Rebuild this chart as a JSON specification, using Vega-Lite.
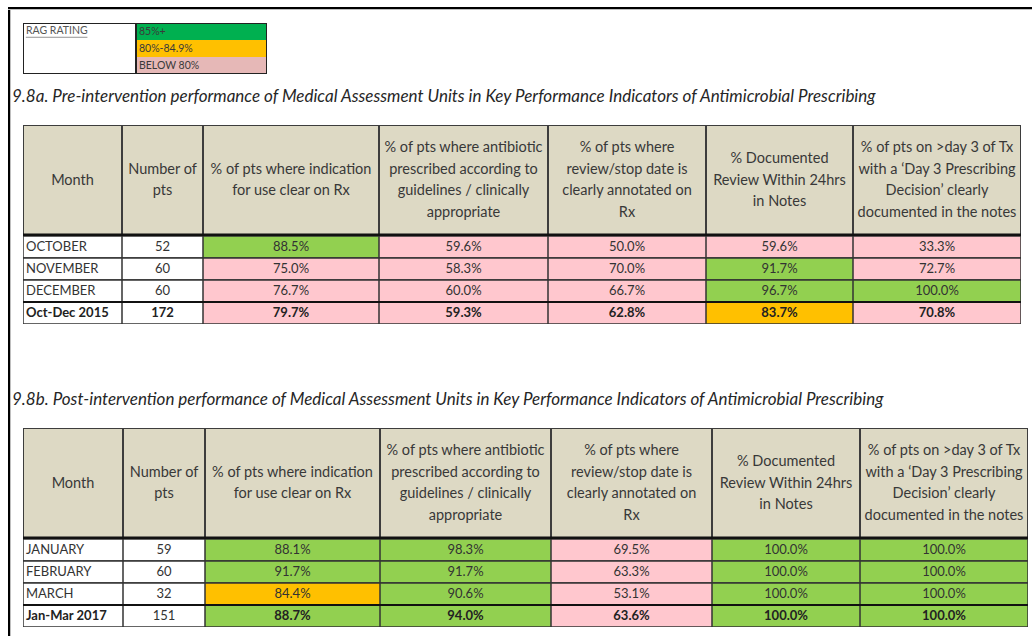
{
"$schema": "https://vega.github.io/schema/vega-lite/v6.json",
"background": "white",
"padding": {"left": 8, "top": 7, "right": 0, "bottom": 0},
"config": {"view": {"stroke": null}},
"datasets": {
"hdr": [
 {"col":"month","label":"Month"},
 {"col":"n","label":"Number of\npts"},
 {"col":"ind","label":"% of pts where indication\nfor use clear on Rx"},
 {"col":"anti","label":"% of pts where antibiotic\nprescribed according to\nguidelines / clinically\nappropriate"},
 {"col":"rev","label":"% of pts where\nreview/stop date is\nclearly annotated on\nRx"},
 {"col":"doc","label":"% Documented\nReview Within 24hrs\nin Notes"},
 {"col":"d3","label":"% of pts on >day 3 of Tx\nwith a ‘Day 3 Prescribing\nDecision’ clearly\ndocumented in the notes"}
],
"a": [
 {"month":"OCTOBER","n":52,"ind":0.885,"anti":0.596,"rev":0.500,"doc":0.596,"d3":0.333,"total":false},
 {"month":"NOVEMBER","n":60,"ind":0.750,"anti":0.583,"rev":0.700,"doc":0.917,"d3":0.727,"total":false},
 {"month":"DECEMBER","n":60,"ind":0.767,"anti":0.600,"rev":0.667,"doc":0.967,"d3":1.000,"total":false},
 {"month":"Oct-Dec 2015","n":172,"ind":0.797,"anti":0.593,"rev":0.628,"doc":0.837,"d3":0.708,"total":true}
],
"b": [
 {"month":"JANUARY","n":59,"ind":0.881,"anti":0.983,"rev":0.695,"doc":1.000,"d3":1.000,"total":false},
 {"month":"FEBRUARY","n":60,"ind":0.917,"anti":0.917,"rev":0.633,"doc":1.000,"d3":1.000,"total":false},
 {"month":"MARCH","n":32,"ind":0.844,"anti":0.906,"rev":0.531,"doc":1.000,"d3":1.000,"total":false},
 {"month":"Jan-Mar 2017","n":151,"ind":0.887,"anti":0.940,"rev":0.636,"doc":1.000,"d3":1.000,"total":true}
],
"rag": [{"rating":"85%+"},{"rating":"80%-84.9%"},{"rating":"BELOW 80%"}],
"tag": [{"t":"RAG RATING"}]
},
"spacing": 0,
"vconcat": [
 {"width": 1024, "height": 2.5, "data": {"values": [{"k": 1}]}, "mark": {"type": "rect", "color": "#000000", "clip": true},
  "encoding": {"x": {"datum": 0, "type": "quantitative", "scale": {"domain": [0, 1]}, "axis": null}, "x2": {"datum": 1}, "y": {"datum": 0, "type": "quantitative", "scale": {"domain": [0, 1]}, "axis": null}, "y2": {"datum": 1}}},
 {"spacing": 1, "hconcat": [
  {"width": 2.5, "height": 627, "data": {"values": [{"k": 1}]}, "mark": {"type": "rect", "color": "#000000", "clip": true},
   "encoding": {"x": {"datum": 0, "type": "quantitative", "scale": {"domain": [0, 1]}, "axis": null}, "x2": {"datum": 1}, "y": {"datum": 0, "type": "quantitative", "scale": {"domain": [0, 1]}, "axis": null}, "y2": {"datum": 1}}},
  {"spacing": 0, "vconcat": [
   {"width": 1, "height": 13, "data": {"values": []}, "mark": "point"},
   {"spacing": 0, "bounds": "flush", "hconcat": [
    {"width": 113, "height": 51, "data": {"name": "tag"}, "layer": [
     {"mark": {"type": "rect", "fill": "#ffffff", "stroke": "#222222", "strokeWidth": 2, "clip": true}, "encoding": {"x": {"datum": 0, "type": "quantitative", "scale": {"domain": [0, 1]}, "axis": null}, "x2": {"datum": 1}, "y": {"datum": 0, "type": "quantitative", "scale": {"domain": [0, 1]}, "axis": null}, "y2": {"datum": 1}}},
     {"mark": {"type": "text", "font": "Lato", "fontSize": 10.5, "color": "#555555", "align": "left", "baseline": "top", "dx": 3, "dy": 3}, "encoding": {"x": {"datum": 0, "type": "quantitative"}, "y": {"datum": 1, "type": "quantitative"}, "text": {"field": "t"}}},
     {"mark": {"type": "rule", "strokeWidth": 0.8, "color": "#777777", "clip": true}, "encoding": {"x": {"datum": 0.025, "type": "quantitative"}, "x2": {"datum": 0.57}, "y": {"datum": 0.72, "type": "quantitative"}}}
    ]},
    {"width": 131, "height": 51, "data": {"name": "rag"}, "resolve": {"scale": {"y": "independent"}}, "layer": [
     {"mark": {"type": "rect", "clip": true}, "encoding": {"y": {"field": "rating", "type": "nominal", "sort": null, "axis": null, "scale": {"paddingInner": 0, "paddingOuter": 0}}, "x": {"datum": 0, "type": "quantitative", "scale": {"domain": [0, 1]}, "axis": null}, "x2": {"datum": 1}, "color": {"field": "rating", "type": "nominal", "sort": null, "scale": {"range": ["#00b050", "#ffc000", "#e6b8b7"]}, "legend": null}}},
     {"mark": {"type": "text", "font": "Lato", "fontSize": 10.5, "color": "#3a3a3a", "align": "left", "dx": 3}, "encoding": {"y": {"field": "rating", "type": "nominal", "sort": null, "axis": null, "scale": {"paddingInner": 0, "paddingOuter": 0}}, "x": {"datum": 0, "type": "quantitative"}, "text": {"field": "rating"}}},
     {"mark": {"type": "rect", "fill": null, "stroke": "#222222", "strokeWidth": 2, "clip": true}, "encoding": {"x": {"datum": 0, "type": "quantitative"}, "x2": {"datum": 1}, "y": {"datum": 0, "type": "quantitative", "scale": {"domain": [0, 1]}, "axis": null}, "y2": {"datum": 1}}}
    ]}
   ]},
   {"width": 1, "height": 14, "data": {"values": []}, "mark": "point"},
   {"spacing": 0,
    "title": {"text": "9.8a. Pre-intervention performance of Medical Assessment Units in Key Performance Indicators of Antimicrobial Prescribing", "anchor": "start", "dx": -11, "offset": 19, "font": "Lato", "fontStyle": "italic", "fontWeight": "normal", "fontSize": 17, "color": "#262626"},
    "vconcat": [
    {"spacing": 0, "bounds": "flush", "hconcat": [
     {"width":99,"height":111,"data":{"name":"hdr"},"transform":[{"filter":{"field":"col","equal":"month"}}],"layer":[
      {"mark":{"type":"rect","fill":"#ddd9c4","stroke":"#3d3d3d","strokeWidth":2,"clip":true},"encoding":{"x":{"datum":0,"type":"quantitative","scale":{"domain":[0,1]},"axis":null},"x2":{"datum":1},"y":{"datum":0,"type":"quantitative","scale":{"domain":[0,1]},"axis":null},"y2":{"datum":1}}},
      {"mark":{"type":"text","font":"Lato","fontSize":14.5,"lineHeight":21.5,"lineBreak":"\n","color":"#383838","baseline":"middle","dy":0},"encoding":{"x":{"datum":0.5,"type":"quantitative"},"y":{"datum":0.5,"type":"quantitative"},"text":{"field":"label"}}},
      {"mark":{"type":"rule","strokeWidth":5,"color":"#111111","clip":true},"encoding":{"x":{"datum":0,"type":"quantitative"},"x2":{"datum":1},"y":{"datum":0,"type":"quantitative"}}}
     ]},
     {"width":81,"height":111,"data":{"name":"hdr"},"transform":[{"filter":{"field":"col","equal":"n"}}],"layer":[
      {"mark":{"type":"rect","fill":"#ddd9c4","stroke":"#3d3d3d","strokeWidth":2,"clip":true},"encoding":{"x":{"datum":0,"type":"quantitative","scale":{"domain":[0,1]},"axis":null},"x2":{"datum":1},"y":{"datum":0,"type":"quantitative","scale":{"domain":[0,1]},"axis":null},"y2":{"datum":1}}},
      {"mark":{"type":"text","font":"Lato","fontSize":14.5,"lineHeight":21.5,"lineBreak":"\n","color":"#383838","baseline":"middle","dy":-10.75},"encoding":{"x":{"datum":0.5,"type":"quantitative"},"y":{"datum":0.5,"type":"quantitative"},"text":{"field":"label"}}},
      {"mark":{"type":"rule","strokeWidth":5,"color":"#111111","clip":true},"encoding":{"x":{"datum":0,"type":"quantitative"},"x2":{"datum":1},"y":{"datum":0,"type":"quantitative"}}}
     ]},
     {"width":176,"height":111,"data":{"name":"hdr"},"transform":[{"filter":{"field":"col","equal":"ind"}}],"layer":[
      {"mark":{"type":"rect","fill":"#ddd9c4","stroke":"#3d3d3d","strokeWidth":2,"clip":true},"encoding":{"x":{"datum":0,"type":"quantitative","scale":{"domain":[0,1]},"axis":null},"x2":{"datum":1},"y":{"datum":0,"type":"quantitative","scale":{"domain":[0,1]},"axis":null},"y2":{"datum":1}}},
      {"mark":{"type":"text","font":"Lato","fontSize":14.5,"lineHeight":21.5,"lineBreak":"\n","color":"#383838","baseline":"middle","dy":-10.75},"encoding":{"x":{"datum":0.5,"type":"quantitative"},"y":{"datum":0.5,"type":"quantitative"},"text":{"field":"label"}}},
      {"mark":{"type":"rule","strokeWidth":5,"color":"#111111","clip":true},"encoding":{"x":{"datum":0,"type":"quantitative"},"x2":{"datum":1},"y":{"datum":0,"type":"quantitative"}}}
     ]},
     {"width":169,"height":111,"data":{"name":"hdr"},"transform":[{"filter":{"field":"col","equal":"anti"}}],"layer":[
      {"mark":{"type":"rect","fill":"#ddd9c4","stroke":"#3d3d3d","strokeWidth":2,"clip":true},"encoding":{"x":{"datum":0,"type":"quantitative","scale":{"domain":[0,1]},"axis":null},"x2":{"datum":1},"y":{"datum":0,"type":"quantitative","scale":{"domain":[0,1]},"axis":null},"y2":{"datum":1}}},
      {"mark":{"type":"text","font":"Lato","fontSize":14.5,"lineHeight":21.5,"lineBreak":"\n","color":"#383838","baseline":"middle","dy":-32.25},"encoding":{"x":{"datum":0.5,"type":"quantitative"},"y":{"datum":0.5,"type":"quantitative"},"text":{"field":"label"}}},
      {"mark":{"type":"rule","strokeWidth":5,"color":"#111111","clip":true},"encoding":{"x":{"datum":0,"type":"quantitative"},"x2":{"datum":1},"y":{"datum":0,"type":"quantitative"}}}
     ]},
     {"width":158,"height":111,"data":{"name":"hdr"},"transform":[{"filter":{"field":"col","equal":"rev"}}],"layer":[
      {"mark":{"type":"rect","fill":"#ddd9c4","stroke":"#3d3d3d","strokeWidth":2,"clip":true},"encoding":{"x":{"datum":0,"type":"quantitative","scale":{"domain":[0,1]},"axis":null},"x2":{"datum":1},"y":{"datum":0,"type":"quantitative","scale":{"domain":[0,1]},"axis":null},"y2":{"datum":1}}},
      {"mark":{"type":"text","font":"Lato","fontSize":14.5,"lineHeight":21.5,"lineBreak":"\n","color":"#383838","baseline":"middle","dy":-32.25},"encoding":{"x":{"datum":0.5,"type":"quantitative"},"y":{"datum":0.5,"type":"quantitative"},"text":{"field":"label"}}},
      {"mark":{"type":"rule","strokeWidth":5,"color":"#111111","clip":true},"encoding":{"x":{"datum":0,"type":"quantitative"},"x2":{"datum":1},"y":{"datum":0,"type":"quantitative"}}}
     ]},
     {"width":147,"height":111,"data":{"name":"hdr"},"transform":[{"filter":{"field":"col","equal":"doc"}}],"layer":[
      {"mark":{"type":"rect","fill":"#ddd9c4","stroke":"#3d3d3d","strokeWidth":2,"clip":true},"encoding":{"x":{"datum":0,"type":"quantitative","scale":{"domain":[0,1]},"axis":null},"x2":{"datum":1},"y":{"datum":0,"type":"quantitative","scale":{"domain":[0,1]},"axis":null},"y2":{"datum":1}}},
      {"mark":{"type":"text","font":"Lato","fontSize":14.5,"lineHeight":21.5,"lineBreak":"\n","color":"#383838","baseline":"middle","dy":-21.5},"encoding":{"x":{"datum":0.5,"type":"quantitative"},"y":{"datum":0.5,"type":"quantitative"},"text":{"field":"label"}}},
      {"mark":{"type":"rule","strokeWidth":5,"color":"#111111","clip":true},"encoding":{"x":{"datum":0,"type":"quantitative"},"x2":{"datum":1},"y":{"datum":0,"type":"quantitative"}}}
     ]},
     {"width":168,"height":111,"data":{"name":"hdr"},"transform":[{"filter":{"field":"col","equal":"d3"}}],"layer":[
      {"mark":{"type":"rect","fill":"#ddd9c4","stroke":"#3d3d3d","strokeWidth":2,"clip":true},"encoding":{"x":{"datum":0,"type":"quantitative","scale":{"domain":[0,1]},"axis":null},"x2":{"datum":1},"y":{"datum":0,"type":"quantitative","scale":{"domain":[0,1]},"axis":null},"y2":{"datum":1}}},
      {"mark":{"type":"text","font":"Lato","fontSize":14.5,"lineHeight":21.5,"lineBreak":"\n","color":"#383838","baseline":"middle","dy":-32.25},"encoding":{"x":{"datum":0.5,"type":"quantitative"},"y":{"datum":0.5,"type":"quantitative"},"text":{"field":"label"}}},
      {"mark":{"type":"rule","strokeWidth":5,"color":"#111111","clip":true},"encoding":{"x":{"datum":0,"type":"quantitative"},"x2":{"datum":1},"y":{"datum":0,"type":"quantitative"}}}
     ]}
    ]},
    {"spacing": 0, "bounds": "flush", "hconcat": [
     {"width":99,"height":88,"data":{"name":"a"},"encoding":{"y":{"field":"month","type":"nominal","sort":null,"axis":null,"scale":{"paddingInner":0,"paddingOuter":0}}},"layer":[
      {"mark":{"type":"rect","fill":"#ffffff","stroke":"#333333","strokeWidth":1.5,"clip":true},"encoding":{"x":{"datum":0,"type":"quantitative","scale":{"domain":[0,1]},"axis":null},"x2":{"datum":1}}},
      {"transform":[{"filter":{"field":"total","equal":false}}],"mark":{"type":"text","font":"Lato","fontSize":13,"color":"#333333","align":"left","dx":3},"encoding":{"x":{"datum":0,"type":"quantitative"},"text":{"field":"month"}}},
      {"transform":[{"filter":{"field":"total","equal":true}}],"mark":{"type":"text","font":"Lato","fontSize":13,"fontWeight":"bold","color":"#222222","align":"left","dx":3},"encoding":{"x":{"datum":0,"type":"quantitative"},"text":{"field":"month"}}},
      {"transform":[{"filter":{"field":"total","equal":true}}],"mark":{"type":"rule","strokeWidth":2,"color":"#111111","clip":true},"encoding":{"x":{"datum":0,"type":"quantitative"},"x2":{"datum":1},"y":{"field":"month","type":"nominal","sort":null,"bandPosition":0}}}
     ]},
     {"width":81,"height":88,"data":{"name":"a"},"encoding":{"y":{"field":"month","type":"nominal","sort":null,"axis":null,"scale":{"paddingInner":0,"paddingOuter":0}}},"layer":[
      {"mark":{"type":"rect","fill":"#ffffff","stroke":"#333333","strokeWidth":1.5,"clip":true},"encoding":{"x":{"datum":0,"type":"quantitative","scale":{"domain":[0,1]},"axis":null},"x2":{"datum":1}}},
      {"transform":[{"filter":{"field":"total","equal":false}}],"mark":{"type":"text","font":"Lato","fontSize":13,"color":"#333333"},"encoding":{"x":{"datum":0.5,"type":"quantitative"},"text":{"field":"n"}}},
      {"transform":[{"filter":{"field":"total","equal":true}}],"mark":{"type":"text","font":"Lato","fontSize":13,"fontWeight":"bold","color":"#222222"},"encoding":{"x":{"datum":0.5,"type":"quantitative"},"text":{"field":"n"}}},
      {"transform":[{"filter":{"field":"total","equal":true}}],"mark":{"type":"rule","strokeWidth":2,"color":"#111111","clip":true},"encoding":{"x":{"datum":0,"type":"quantitative"},"x2":{"datum":1},"y":{"field":"month","type":"nominal","sort":null,"bandPosition":0}}}
     ]},
     {"width":176,"height":88,"data":{"name":"a"},"encoding":{"y":{"field":"month","type":"nominal","sort":null,"axis":null,"scale":{"paddingInner":0,"paddingOuter":0}}},"layer":[
      {"mark":{"type":"rect","stroke":"#333333","strokeWidth":1.5,"clip":true},"encoding":{"x":{"datum":0,"type":"quantitative","scale":{"domain":[0,1]},"axis":null},"x2":{"datum":1},"fill":{"field":"ind","type":"quantitative","scale":{"type":"threshold","domain":[0.8,0.85],"range":["#ffc7ce","#ffc000","#92d050"]},"legend":null}}},
      {"transform":[{"filter":{"field":"total","equal":false}}],"mark":{"type":"text","font":"Lato","fontSize":13,"color":"#333333"},"encoding":{"x":{"datum":0.5,"type":"quantitative"},"text":{"field":"ind","format":".1%"}}},
      {"transform":[{"filter":{"field":"total","equal":true}}],"mark":{"type":"text","font":"Lato","fontSize":13,"fontWeight":"bold","color":"#222222"},"encoding":{"x":{"datum":0.5,"type":"quantitative"},"text":{"field":"ind","format":".1%"}}},
      {"transform":[{"filter":{"field":"total","equal":true}}],"mark":{"type":"rule","strokeWidth":2,"color":"#111111","clip":true},"encoding":{"x":{"datum":0,"type":"quantitative"},"x2":{"datum":1},"y":{"field":"month","type":"nominal","sort":null,"bandPosition":0}}}
     ]},
     {"width":169,"height":88,"data":{"name":"a"},"encoding":{"y":{"field":"month","type":"nominal","sort":null,"axis":null,"scale":{"paddingInner":0,"paddingOuter":0}}},"layer":[
      {"mark":{"type":"rect","stroke":"#333333","strokeWidth":1.5,"clip":true},"encoding":{"x":{"datum":0,"type":"quantitative","scale":{"domain":[0,1]},"axis":null},"x2":{"datum":1},"fill":{"field":"anti","type":"quantitative","scale":{"type":"threshold","domain":[0.8,0.85],"range":["#ffc7ce","#ffc000","#92d050"]},"legend":null}}},
      {"transform":[{"filter":{"field":"total","equal":false}}],"mark":{"type":"text","font":"Lato","fontSize":13,"color":"#333333"},"encoding":{"x":{"datum":0.5,"type":"quantitative"},"text":{"field":"anti","format":".1%"}}},
      {"transform":[{"filter":{"field":"total","equal":true}}],"mark":{"type":"text","font":"Lato","fontSize":13,"fontWeight":"bold","color":"#222222"},"encoding":{"x":{"datum":0.5,"type":"quantitative"},"text":{"field":"anti","format":".1%"}}},
      {"transform":[{"filter":{"field":"total","equal":true}}],"mark":{"type":"rule","strokeWidth":2,"color":"#111111","clip":true},"encoding":{"x":{"datum":0,"type":"quantitative"},"x2":{"datum":1},"y":{"field":"month","type":"nominal","sort":null,"bandPosition":0}}}
     ]},
     {"width":158,"height":88,"data":{"name":"a"},"encoding":{"y":{"field":"month","type":"nominal","sort":null,"axis":null,"scale":{"paddingInner":0,"paddingOuter":0}}},"layer":[
      {"mark":{"type":"rect","stroke":"#333333","strokeWidth":1.5,"clip":true},"encoding":{"x":{"datum":0,"type":"quantitative","scale":{"domain":[0,1]},"axis":null},"x2":{"datum":1},"fill":{"field":"rev","type":"quantitative","scale":{"type":"threshold","domain":[0.8,0.85],"range":["#ffc7ce","#ffc000","#92d050"]},"legend":null}}},
      {"transform":[{"filter":{"field":"total","equal":false}}],"mark":{"type":"text","font":"Lato","fontSize":13,"color":"#333333"},"encoding":{"x":{"datum":0.5,"type":"quantitative"},"text":{"field":"rev","format":".1%"}}},
      {"transform":[{"filter":{"field":"total","equal":true}}],"mark":{"type":"text","font":"Lato","fontSize":13,"fontWeight":"bold","color":"#222222"},"encoding":{"x":{"datum":0.5,"type":"quantitative"},"text":{"field":"rev","format":".1%"}}},
      {"transform":[{"filter":{"field":"total","equal":true}}],"mark":{"type":"rule","strokeWidth":2,"color":"#111111","clip":true},"encoding":{"x":{"datum":0,"type":"quantitative"},"x2":{"datum":1},"y":{"field":"month","type":"nominal","sort":null,"bandPosition":0}}}
     ]},
     {"width":147,"height":88,"data":{"name":"a"},"encoding":{"y":{"field":"month","type":"nominal","sort":null,"axis":null,"scale":{"paddingInner":0,"paddingOuter":0}}},"layer":[
      {"mark":{"type":"rect","stroke":"#333333","strokeWidth":1.5,"clip":true},"encoding":{"x":{"datum":0,"type":"quantitative","scale":{"domain":[0,1]},"axis":null},"x2":{"datum":1},"fill":{"field":"doc","type":"quantitative","scale":{"type":"threshold","domain":[0.8,0.85],"range":["#ffc7ce","#ffc000","#92d050"]},"legend":null}}},
      {"transform":[{"filter":{"field":"total","equal":false}}],"mark":{"type":"text","font":"Lato","fontSize":13,"color":"#333333"},"encoding":{"x":{"datum":0.5,"type":"quantitative"},"text":{"field":"doc","format":".1%"}}},
      {"transform":[{"filter":{"field":"total","equal":true}}],"mark":{"type":"text","font":"Lato","fontSize":13,"fontWeight":"bold","color":"#222222"},"encoding":{"x":{"datum":0.5,"type":"quantitative"},"text":{"field":"doc","format":".1%"}}},
      {"transform":[{"filter":{"field":"total","equal":true}}],"mark":{"type":"rule","strokeWidth":2,"color":"#111111","clip":true},"encoding":{"x":{"datum":0,"type":"quantitative"},"x2":{"datum":1},"y":{"field":"month","type":"nominal","sort":null,"bandPosition":0}}}
     ]},
     {"width":168,"height":88,"data":{"name":"a"},"encoding":{"y":{"field":"month","type":"nominal","sort":null,"axis":null,"scale":{"paddingInner":0,"paddingOuter":0}}},"layer":[
      {"mark":{"type":"rect","stroke":"#333333","strokeWidth":1.5,"clip":true},"encoding":{"x":{"datum":0,"type":"quantitative","scale":{"domain":[0,1]},"axis":null},"x2":{"datum":1},"fill":{"field":"d3","type":"quantitative","scale":{"type":"threshold","domain":[0.8,0.85],"range":["#ffc7ce","#ffc000","#92d050"]},"legend":null}}},
      {"transform":[{"filter":{"field":"total","equal":false}}],"mark":{"type":"text","font":"Lato","fontSize":13,"color":"#333333"},"encoding":{"x":{"datum":0.5,"type":"quantitative"},"text":{"field":"d3","format":".1%"}}},
      {"transform":[{"filter":{"field":"total","equal":true}}],"mark":{"type":"text","font":"Lato","fontSize":13,"fontWeight":"bold","color":"#222222"},"encoding":{"x":{"datum":0.5,"type":"quantitative"},"text":{"field":"d3","format":".1%"}}},
      {"transform":[{"filter":{"field":"total","equal":true}}],"mark":{"type":"rule","strokeWidth":2,"color":"#111111","clip":true},"encoding":{"x":{"datum":0,"type":"quantitative"},"x2":{"datum":1},"y":{"field":"month","type":"nominal","sort":null,"bandPosition":0}}}
     ]}
    ]}
   ]},
   {"width": 1, "height": 66.5, "data": {"values": []}, "mark": "point"},
   {"spacing": 0,
    "title": {"text": "9.8b. Post-intervention performance of Medical Assessment Units in Key Performance Indicators of Antimicrobial Prescribing", "anchor": "start", "dx": -11, "offset": 19, "font": "Lato", "fontStyle": "italic", "fontWeight": "normal", "fontSize": 17, "color": "#262626"},
    "vconcat": [
    {"spacing": 0, "bounds": "flush", "hconcat": [
     {"width":100,"height":111,"data":{"name":"hdr"},"transform":[{"filter":{"field":"col","equal":"month"}}],"layer":[
      {"mark":{"type":"rect","fill":"#ddd9c4","stroke":"#3d3d3d","strokeWidth":2,"clip":true},"encoding":{"x":{"datum":0,"type":"quantitative","scale":{"domain":[0,1]},"axis":null},"x2":{"datum":1},"y":{"datum":0,"type":"quantitative","scale":{"domain":[0,1]},"axis":null},"y2":{"datum":1}}},
      {"mark":{"type":"text","font":"Lato","fontSize":14.5,"lineHeight":21.5,"lineBreak":"\n","color":"#383838","baseline":"middle","dy":0},"encoding":{"x":{"datum":0.5,"type":"quantitative"},"y":{"datum":0.5,"type":"quantitative"},"text":{"field":"label"}}},
      {"mark":{"type":"rule","strokeWidth":5,"color":"#111111","clip":true},"encoding":{"x":{"datum":0,"type":"quantitative"},"x2":{"datum":1},"y":{"datum":0,"type":"quantitative"}}}
     ]},
     {"width":82,"height":111,"data":{"name":"hdr"},"transform":[{"filter":{"field":"col","equal":"n"}}],"layer":[
      {"mark":{"type":"rect","fill":"#ddd9c4","stroke":"#3d3d3d","strokeWidth":2,"clip":true},"encoding":{"x":{"datum":0,"type":"quantitative","scale":{"domain":[0,1]},"axis":null},"x2":{"datum":1},"y":{"datum":0,"type":"quantitative","scale":{"domain":[0,1]},"axis":null},"y2":{"datum":1}}},
      {"mark":{"type":"text","font":"Lato","fontSize":14.5,"lineHeight":21.5,"lineBreak":"\n","color":"#383838","baseline":"middle","dy":-10.75},"encoding":{"x":{"datum":0.5,"type":"quantitative"},"y":{"datum":0.5,"type":"quantitative"},"text":{"field":"label"}}},
      {"mark":{"type":"rule","strokeWidth":5,"color":"#111111","clip":true},"encoding":{"x":{"datum":0,"type":"quantitative"},"x2":{"datum":1},"y":{"datum":0,"type":"quantitative"}}}
     ]},
     {"width":175,"height":111,"data":{"name":"hdr"},"transform":[{"filter":{"field":"col","equal":"ind"}}],"layer":[
      {"mark":{"type":"rect","fill":"#ddd9c4","stroke":"#3d3d3d","strokeWidth":2,"clip":true},"encoding":{"x":{"datum":0,"type":"quantitative","scale":{"domain":[0,1]},"axis":null},"x2":{"datum":1},"y":{"datum":0,"type":"quantitative","scale":{"domain":[0,1]},"axis":null},"y2":{"datum":1}}},
      {"mark":{"type":"text","font":"Lato","fontSize":14.5,"lineHeight":21.5,"lineBreak":"\n","color":"#383838","baseline":"middle","dy":-10.75},"encoding":{"x":{"datum":0.5,"type":"quantitative"},"y":{"datum":0.5,"type":"quantitative"},"text":{"field":"label"}}},
      {"mark":{"type":"rule","strokeWidth":5,"color":"#111111","clip":true},"encoding":{"x":{"datum":0,"type":"quantitative"},"x2":{"datum":1},"y":{"datum":0,"type":"quantitative"}}}
     ]},
     {"width":171,"height":111,"data":{"name":"hdr"},"transform":[{"filter":{"field":"col","equal":"anti"}}],"layer":[
      {"mark":{"type":"rect","fill":"#ddd9c4","stroke":"#3d3d3d","strokeWidth":2,"clip":true},"encoding":{"x":{"datum":0,"type":"quantitative","scale":{"domain":[0,1]},"axis":null},"x2":{"datum":1},"y":{"datum":0,"type":"quantitative","scale":{"domain":[0,1]},"axis":null},"y2":{"datum":1}}},
      {"mark":{"type":"text","font":"Lato","fontSize":14.5,"lineHeight":21.5,"lineBreak":"\n","color":"#383838","baseline":"middle","dy":-32.25},"encoding":{"x":{"datum":0.5,"type":"quantitative"},"y":{"datum":0.5,"type":"quantitative"},"text":{"field":"label"}}},
      {"mark":{"type":"rule","strokeWidth":5,"color":"#111111","clip":true},"encoding":{"x":{"datum":0,"type":"quantitative"},"x2":{"datum":1},"y":{"datum":0,"type":"quantitative"}}}
     ]},
     {"width":161,"height":111,"data":{"name":"hdr"},"transform":[{"filter":{"field":"col","equal":"rev"}}],"layer":[
      {"mark":{"type":"rect","fill":"#ddd9c4","stroke":"#3d3d3d","strokeWidth":2,"clip":true},"encoding":{"x":{"datum":0,"type":"quantitative","scale":{"domain":[0,1]},"axis":null},"x2":{"datum":1},"y":{"datum":0,"type":"quantitative","scale":{"domain":[0,1]},"axis":null},"y2":{"datum":1}}},
      {"mark":{"type":"text","font":"Lato","fontSize":14.5,"lineHeight":21.5,"lineBreak":"\n","color":"#383838","baseline":"middle","dy":-32.25},"encoding":{"x":{"datum":0.5,"type":"quantitative"},"y":{"datum":0.5,"type":"quantitative"},"text":{"field":"label"}}},
      {"mark":{"type":"rule","strokeWidth":5,"color":"#111111","clip":true},"encoding":{"x":{"datum":0,"type":"quantitative"},"x2":{"datum":1},"y":{"datum":0,"type":"quantitative"}}}
     ]},
     {"width":148,"height":111,"data":{"name":"hdr"},"transform":[{"filter":{"field":"col","equal":"doc"}}],"layer":[
      {"mark":{"type":"rect","fill":"#ddd9c4","stroke":"#3d3d3d","strokeWidth":2,"clip":true},"encoding":{"x":{"datum":0,"type":"quantitative","scale":{"domain":[0,1]},"axis":null},"x2":{"datum":1},"y":{"datum":0,"type":"quantitative","scale":{"domain":[0,1]},"axis":null},"y2":{"datum":1}}},
      {"mark":{"type":"text","font":"Lato","fontSize":14.5,"lineHeight":21.5,"lineBreak":"\n","color":"#383838","baseline":"middle","dy":-21.5},"encoding":{"x":{"datum":0.5,"type":"quantitative"},"y":{"datum":0.5,"type":"quantitative"},"text":{"field":"label"}}},
      {"mark":{"type":"rule","strokeWidth":5,"color":"#111111","clip":true},"encoding":{"x":{"datum":0,"type":"quantitative"},"x2":{"datum":1},"y":{"datum":0,"type":"quantitative"}}}
     ]},
     {"width":168,"height":111,"data":{"name":"hdr"},"transform":[{"filter":{"field":"col","equal":"d3"}}],"layer":[
      {"mark":{"type":"rect","fill":"#ddd9c4","stroke":"#3d3d3d","strokeWidth":2,"clip":true},"encoding":{"x":{"datum":0,"type":"quantitative","scale":{"domain":[0,1]},"axis":null},"x2":{"datum":1},"y":{"datum":0,"type":"quantitative","scale":{"domain":[0,1]},"axis":null},"y2":{"datum":1}}},
      {"mark":{"type":"text","font":"Lato","fontSize":14.5,"lineHeight":21.5,"lineBreak":"\n","color":"#383838","baseline":"middle","dy":-32.25},"encoding":{"x":{"datum":0.5,"type":"quantitative"},"y":{"datum":0.5,"type":"quantitative"},"text":{"field":"label"}}},
      {"mark":{"type":"rule","strokeWidth":5,"color":"#111111","clip":true},"encoding":{"x":{"datum":0,"type":"quantitative"},"x2":{"datum":1},"y":{"datum":0,"type":"quantitative"}}}
     ]}
    ]},
    {"spacing": 0, "bounds": "flush", "hconcat": [
     {"width":100,"height":88,"data":{"name":"b"},"encoding":{"y":{"field":"month","type":"nominal","sort":null,"axis":null,"scale":{"paddingInner":0,"paddingOuter":0}}},"layer":[
      {"mark":{"type":"rect","fill":"#ffffff","stroke":"#333333","strokeWidth":1.5,"clip":true},"encoding":{"x":{"datum":0,"type":"quantitative","scale":{"domain":[0,1]},"axis":null},"x2":{"datum":1}}},
      {"transform":[{"filter":{"field":"total","equal":false}}],"mark":{"type":"text","font":"Lato","fontSize":13,"color":"#333333","align":"left","dx":3},"encoding":{"x":{"datum":0,"type":"quantitative"},"text":{"field":"month"}}},
      {"transform":[{"filter":{"field":"total","equal":true}}],"mark":{"type":"text","font":"Lato","fontSize":13,"fontWeight":"bold","color":"#222222","align":"left","dx":3},"encoding":{"x":{"datum":0,"type":"quantitative"},"text":{"field":"month"}}},
      {"transform":[{"filter":{"field":"total","equal":true}}],"mark":{"type":"rule","strokeWidth":2,"color":"#111111","clip":true},"encoding":{"x":{"datum":0,"type":"quantitative"},"x2":{"datum":1},"y":{"field":"month","type":"nominal","sort":null,"bandPosition":0}}}
     ]},
     {"width":82,"height":88,"data":{"name":"b"},"encoding":{"y":{"field":"month","type":"nominal","sort":null,"axis":null,"scale":{"paddingInner":0,"paddingOuter":0}}},"layer":[
      {"mark":{"type":"rect","fill":"#ffffff","stroke":"#333333","strokeWidth":1.5,"clip":true},"encoding":{"x":{"datum":0,"type":"quantitative","scale":{"domain":[0,1]},"axis":null},"x2":{"datum":1}}},
      {"mark":{"type":"text","font":"Lato","fontSize":13,"color":"#333333"},"encoding":{"x":{"datum":0.5,"type":"quantitative"},"text":{"field":"n"}}},
      {"transform":[{"filter":{"field":"total","equal":true}}],"mark":{"type":"rule","strokeWidth":2,"color":"#111111","clip":true},"encoding":{"x":{"datum":0,"type":"quantitative"},"x2":{"datum":1},"y":{"field":"month","type":"nominal","sort":null,"bandPosition":0}}}
     ]},
     {"width":175,"height":88,"data":{"name":"b"},"encoding":{"y":{"field":"month","type":"nominal","sort":null,"axis":null,"scale":{"paddingInner":0,"paddingOuter":0}}},"layer":[
      {"mark":{"type":"rect","stroke":"#333333","strokeWidth":1.5,"clip":true},"encoding":{"x":{"datum":0,"type":"quantitative","scale":{"domain":[0,1]},"axis":null},"x2":{"datum":1},"fill":{"field":"ind","type":"quantitative","scale":{"type":"threshold","domain":[0.8,0.85],"range":["#ffc7ce","#ffc000","#92d050"]},"legend":null}}},
      {"transform":[{"filter":{"field":"total","equal":false}}],"mark":{"type":"text","font":"Lato","fontSize":13,"color":"#333333"},"encoding":{"x":{"datum":0.5,"type":"quantitative"},"text":{"field":"ind","format":".1%"}}},
      {"transform":[{"filter":{"field":"total","equal":true}}],"mark":{"type":"text","font":"Lato","fontSize":13,"fontWeight":"bold","color":"#222222"},"encoding":{"x":{"datum":0.5,"type":"quantitative"},"text":{"field":"ind","format":".1%"}}},
      {"transform":[{"filter":{"field":"total","equal":true}}],"mark":{"type":"rule","strokeWidth":2,"color":"#111111","clip":true},"encoding":{"x":{"datum":0,"type":"quantitative"},"x2":{"datum":1},"y":{"field":"month","type":"nominal","sort":null,"bandPosition":0}}}
     ]},
     {"width":171,"height":88,"data":{"name":"b"},"encoding":{"y":{"field":"month","type":"nominal","sort":null,"axis":null,"scale":{"paddingInner":0,"paddingOuter":0}}},"layer":[
      {"mark":{"type":"rect","stroke":"#333333","strokeWidth":1.5,"clip":true},"encoding":{"x":{"datum":0,"type":"quantitative","scale":{"domain":[0,1]},"axis":null},"x2":{"datum":1},"fill":{"field":"anti","type":"quantitative","scale":{"type":"threshold","domain":[0.8,0.85],"range":["#ffc7ce","#ffc000","#92d050"]},"legend":null}}},
      {"transform":[{"filter":{"field":"total","equal":false}}],"mark":{"type":"text","font":"Lato","fontSize":13,"color":"#333333"},"encoding":{"x":{"datum":0.5,"type":"quantitative"},"text":{"field":"anti","format":".1%"}}},
      {"transform":[{"filter":{"field":"total","equal":true}}],"mark":{"type":"text","font":"Lato","fontSize":13,"fontWeight":"bold","color":"#222222"},"encoding":{"x":{"datum":0.5,"type":"quantitative"},"text":{"field":"anti","format":".1%"}}},
      {"transform":[{"filter":{"field":"total","equal":true}}],"mark":{"type":"rule","strokeWidth":2,"color":"#111111","clip":true},"encoding":{"x":{"datum":0,"type":"quantitative"},"x2":{"datum":1},"y":{"field":"month","type":"nominal","sort":null,"bandPosition":0}}}
     ]},
     {"width":161,"height":88,"data":{"name":"b"},"encoding":{"y":{"field":"month","type":"nominal","sort":null,"axis":null,"scale":{"paddingInner":0,"paddingOuter":0}}},"layer":[
      {"mark":{"type":"rect","stroke":"#333333","strokeWidth":1.5,"clip":true},"encoding":{"x":{"datum":0,"type":"quantitative","scale":{"domain":[0,1]},"axis":null},"x2":{"datum":1},"fill":{"field":"rev","type":"quantitative","scale":{"type":"threshold","domain":[0.8,0.85],"range":["#ffc7ce","#ffc000","#92d050"]},"legend":null}}},
      {"transform":[{"filter":{"field":"total","equal":false}}],"mark":{"type":"text","font":"Lato","fontSize":13,"color":"#333333"},"encoding":{"x":{"datum":0.5,"type":"quantitative"},"text":{"field":"rev","format":".1%"}}},
      {"transform":[{"filter":{"field":"total","equal":true}}],"mark":{"type":"text","font":"Lato","fontSize":13,"fontWeight":"bold","color":"#222222"},"encoding":{"x":{"datum":0.5,"type":"quantitative"},"text":{"field":"rev","format":".1%"}}},
      {"transform":[{"filter":{"field":"total","equal":true}}],"mark":{"type":"rule","strokeWidth":2,"color":"#111111","clip":true},"encoding":{"x":{"datum":0,"type":"quantitative"},"x2":{"datum":1},"y":{"field":"month","type":"nominal","sort":null,"bandPosition":0}}}
     ]},
     {"width":148,"height":88,"data":{"name":"b"},"encoding":{"y":{"field":"month","type":"nominal","sort":null,"axis":null,"scale":{"paddingInner":0,"paddingOuter":0}}},"layer":[
      {"mark":{"type":"rect","stroke":"#333333","strokeWidth":1.5,"clip":true},"encoding":{"x":{"datum":0,"type":"quantitative","scale":{"domain":[0,1]},"axis":null},"x2":{"datum":1},"fill":{"field":"doc","type":"quantitative","scale":{"type":"threshold","domain":[0.8,0.85],"range":["#ffc7ce","#ffc000","#92d050"]},"legend":null}}},
      {"transform":[{"filter":{"field":"total","equal":false}}],"mark":{"type":"text","font":"Lato","fontSize":13,"color":"#333333"},"encoding":{"x":{"datum":0.5,"type":"quantitative"},"text":{"field":"doc","format":".1%"}}},
      {"transform":[{"filter":{"field":"total","equal":true}}],"mark":{"type":"text","font":"Lato","fontSize":13,"fontWeight":"bold","color":"#222222"},"encoding":{"x":{"datum":0.5,"type":"quantitative"},"text":{"field":"doc","format":".1%"}}},
      {"transform":[{"filter":{"field":"total","equal":true}}],"mark":{"type":"rule","strokeWidth":2,"color":"#111111","clip":true},"encoding":{"x":{"datum":0,"type":"quantitative"},"x2":{"datum":1},"y":{"field":"month","type":"nominal","sort":null,"bandPosition":0}}}
     ]},
     {"width":168,"height":88,"data":{"name":"b"},"encoding":{"y":{"field":"month","type":"nominal","sort":null,"axis":null,"scale":{"paddingInner":0,"paddingOuter":0}}},"layer":[
      {"mark":{"type":"rect","stroke":"#333333","strokeWidth":1.5,"clip":true},"encoding":{"x":{"datum":0,"type":"quantitative","scale":{"domain":[0,1]},"axis":null},"x2":{"datum":1},"fill":{"field":"d3","type":"quantitative","scale":{"type":"threshold","domain":[0.8,0.85],"range":["#ffc7ce","#ffc000","#92d050"]},"legend":null}}},
      {"transform":[{"filter":{"field":"total","equal":false}}],"mark":{"type":"text","font":"Lato","fontSize":13,"color":"#333333"},"encoding":{"x":{"datum":0.5,"type":"quantitative"},"text":{"field":"d3","format":".1%"}}},
      {"transform":[{"filter":{"field":"total","equal":true}}],"mark":{"type":"text","font":"Lato","fontSize":13,"fontWeight":"bold","color":"#222222"},"encoding":{"x":{"datum":0.5,"type":"quantitative"},"text":{"field":"d3","format":".1%"}}},
      {"transform":[{"filter":{"field":"total","equal":true}}],"mark":{"type":"rule","strokeWidth":2,"color":"#111111","clip":true},"encoding":{"x":{"datum":0,"type":"quantitative"},"x2":{"datum":1},"y":{"field":"month","type":"nominal","sort":null,"bandPosition":0}}}
     ]}
    ]}
   ]}
  ]}
 ]}
]
}
